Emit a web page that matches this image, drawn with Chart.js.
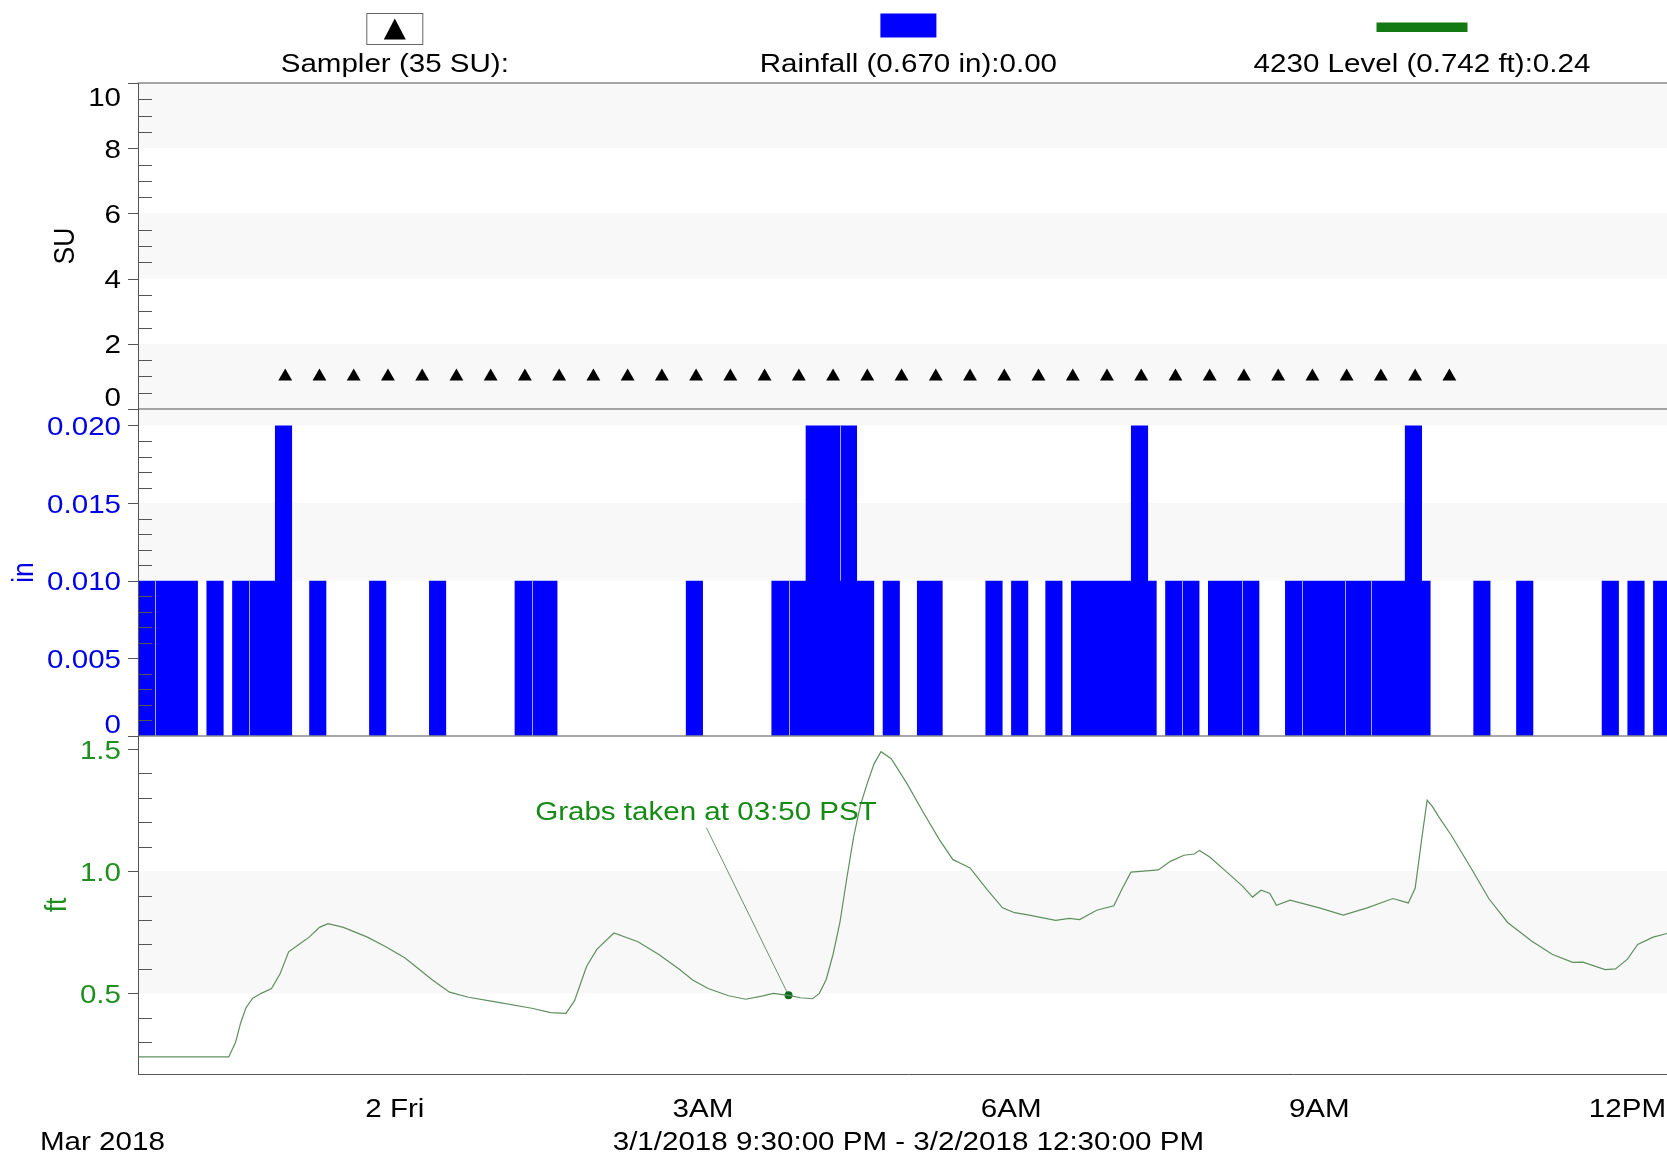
<!DOCTYPE html>
<html>
<head>
<meta charset="utf-8">
<title>Sampler, Rainfall and 4230 Level</title>
<script src="https://cdn.jsdelivr.net/npm/chart.js@4.4.1/dist/chart.umd.min.js"></script>
<style>
  html, body { margin: 0; padding: 0; background: #fff; overflow: hidden; }
</style>
</head>
<body>
<canvas id="levelChart" width="1700" height="1159"></canvas>
<script>
// ---------- data (clock times, 3/1 21:30 -> 3/2 12:30) ----------
const startTime = '21:30';
const endTime = '12:30';

// sampler bottles
const samplerTimes = ['22:56', '23:16', '23:36', '23:56', '00:16', '00:36', '00:56', '01:16', '01:36',
  '01:56', '02:16', '02:36', '02:56', '03:16', '03:36', '03:56', '04:16', '04:36', '04:56', '05:16',
  '05:36', '05:56', '06:16', '06:36', '06:56', '07:16', '07:36', '07:56', '08:16', '08:36', '08:56',
  '09:16', '09:36', '09:56', '10:16'];
const samplerValues = [1, 1, 1, 1, 1, 1, 1, 1, 1, 1, 1, 1, 1, 1, 1, 1, 1, 1, 1, 1, 1, 1, 1, 1, 1, 1, 1, 1,
  1, 1, 1, 1, 1, 1, 1];

// rainfall, 5 minute bins (bin start time), empty bins left out
const rainTimes = ['21:30', '21:35', '21:40', '21:45', '21:50', '21:55', '22:00', '22:10', '22:15',
  '22:25', '22:30', '22:35', '22:40', '22:45', '22:50', '22:55', '23:10', '23:15', '23:45', '23:50',
  '00:20', '00:25', '01:10', '01:15', '01:20', '01:25', '01:30', '02:50', '02:55', '03:40', '03:45',
  '03:50', '03:55', '04:00', '04:05', '04:10', '04:15', '04:20', '04:25', '04:30', '04:35', '04:45',
  '04:50', '05:05', '05:10', '05:15', '05:45', '05:50', '06:00', '06:05', '06:20', '06:25', '06:35',
  '06:40', '06:45', '06:50', '06:55', '07:00', '07:05', '07:10', '07:15', '07:20', '07:30', '07:35',
  '07:40', '07:45', '07:55', '08:00', '08:05', '08:10', '08:15', '08:20', '08:40', '08:45', '08:50',
  '08:55', '09:00', '09:05', '09:10', '09:15', '09:20', '09:25', '09:30', '09:35', '09:40', '09:45',
  '09:50', '09:55', '10:00', '10:30', '10:35', '10:55', '11:00', '11:45', '11:50', '12:00', '12:05',
  '12:15', '12:20'];
const rainValues = [0.01, 0.01, 0.01, 0.01, 0.01, 0.01, 0.01, 0.01, 0.01,
  0.01, 0.01, 0.01, 0.01, 0.01, 0.02, 0.02, 0.01, 0.01, 0.01, 0.01,
  0.01, 0.01, 0.01, 0.01, 0.01, 0.01, 0.01, 0.01, 0.01, 0.01, 0.01,
  0.01, 0.01, 0.02, 0.02, 0.02, 0.02, 0.02, 0.02, 0.01, 0.01, 0.01,
  0.01, 0.01, 0.01, 0.01, 0.01, 0.01, 0.01, 0.01, 0.01, 0.01, 0.01,
  0.01, 0.01, 0.01, 0.01, 0.01, 0.01, 0.02, 0.02, 0.01, 0.01, 0.01,
  0.01, 0.01, 0.01, 0.01, 0.01, 0.01, 0.01, 0.01, 0.01, 0.01, 0.01,
  0.01, 0.01, 0.01, 0.01, 0.01, 0.01, 0.01, 0.01, 0.01, 0.01, 0.01,
  0.02, 0.02, 0.01, 0.01, 0.01, 0.01, 0.01, 0.01, 0.01, 0.01, 0.01,
  0.01, 0.01];
// places where one gauge bar starts right after another (thin light seam), and the seam's lower end
const rainSeams = ['21:40', '22:35', '01:20', '03:50', '04:20', '07:40', '08:15', '08:50', '09:15', '09:30'];
const rainSeamLows = [0, 0, 0, 0, 0.01, 0, 0, 0, 0, 0];

// 4230 level (ft)
const levelTimes = ['21:30', '22:00', '22:23', '22:27', '22:30', '22:33', '22:37', '22:42', '22:48',
  '22:53', '22:58', '23:04', '23:10', '23:16', '23:21', '23:30', '23:44', '23:55', '00:06', '00:14',
  '00:22', '00:32', '00:43', '00:58', '01:20', '01:31', '01:40', '01:45', '01:52', '01:58', '02:08',
  '02:22', '02:34', '02:46', '02:54', '03:03', '03:15', '03:25', '03:35', '03:41', '03:50', '03:57',
  '04:04', '04:08', '04:12', '04:16', '04:20', '04:24', '04:28', '04:32', '04:36', '04:40', '04:44',
  '04:50', '04:59', '05:09', '05:18', '05:26', '05:31', '05:36', '05:46', '05:55', '06:02', '06:09',
  '06:26', '06:34', '06:40', '06:46', '06:50', '07:00', '07:05', '07:10', '07:21', '07:26', '07:33',
  '07:41', '07:47', '07:50', '07:56', '08:07', '08:15', '08:21', '08:26', '08:31', '08:35', '08:43',
  '09:00', '09:14', '09:28', '09:43', '09:52', '09:56', '10:00', '10:03', '10:06', '10:10', '10:17',
  '10:28', '10:39', '10:50', '11:04', '11:16', '11:28', '11:34', '11:47', '11:53', '12:00', '12:06',
  '12:15', '12:23', '12:30'];
const levelValues = [0.24, 0.24, 0.24, 0.30, 0.38, 0.44, 0.48, 0.50, 0.52,
  0.58, 0.67, 0.70, 0.73, 0.77, 0.785, 0.77, 0.73, 0.69, 0.645, 0.60,
  0.555, 0.505, 0.484, 0.466, 0.439, 0.421, 0.418, 0.47, 0.61, 0.68, 0.747,
  0.711, 0.66, 0.60, 0.555, 0.52, 0.49, 0.476, 0.49, 0.50, 0.492, 0.482,
  0.478, 0.50, 0.557, 0.66, 0.79, 0.97, 1.14, 1.27, 1.36, 1.44, 1.489,
  1.46, 1.36, 1.237, 1.13, 1.047, 1.03, 1.013, 0.924, 0.85, 0.83, 0.822,
  0.799, 0.807, 0.802, 0.825, 0.84, 0.858, 0.93, 0.996, 1.002, 1.005, 1.04,
  1.065, 1.07, 1.085, 1.058, 0.99, 0.94, 0.894, 0.922, 0.91, 0.86, 0.881,
  0.85, 0.82, 0.85, 0.888, 0.870, 0.93, 1.14, 1.29, 1.265, 1.22, 1.148,
  1.02, 0.888, 0.79, 0.714, 0.66, 0.627, 0.628, 0.597, 0.60, 0.64, 0.70,
  0.73, 0.745, 0.75];

// grab sample note
const grabTime = '03:50';
const grabValue = 0.492;
const grabText = 'Grabs taken at 03:50 PST';

// axis ticks
const suTicks = [0, 2, 4, 6, 8, 10];
const suTickLabels = ['0', '2', '4', '6', '8', '10'];
const inTicks = [0, 0.005, 0.010, 0.015, 0.020];
const inTickLabels = ['0', '0.005', '0.010', '0.015', '0.020'];
const ftTicks = [0.5, 1.0, 1.5];
const ftTickLabels = ['0.5', '1.0', '1.5'];
const xLabelTimes = ['00:00', '03:00', '06:00', '09:00', '12:00'];
const xLabelTexts = ['2 Fri', '3AM', '6AM', '9AM', '12PM'];

// ---------- helpers ----------
function toHours(hhmm) {
  const [h, m] = hhmm.split(':').map(Number);
  return (h < 21 ? h + 24 : h) + m / 60;
}

const BIN = 5 / 60;
const FONT_SIZE = 26.5;
const STRETCH = 1.115; // the original picture is a little wider than tall
const FONT = FONT_SIZE + 'px "Liberation Sans", Arial, sans-serif';

// rain bins -> step outline (value holds from a point to the next one), back to 0 after each run
function rainSteps() {
  const pts = [];
  let lastEnd = null;
  rainTimes.forEach((t, i) => {
    const s = toHours(t);
    if (lastEnd !== null && Math.abs(s - lastEnd) > 1e-6) pts.push({ x: lastEnd, y: 0 });
    pts.push({ x: s, y: rainValues[i] });
    lastEnd = s + BIN;
  });
  pts.push({ x: lastEnd, y: 0 });
  return pts;
}

function drawText(c, text, x, y, opts) {
  const o = Object.assign({ align: 'center', color: '#000', baseline: 'alphabetic', rotate: false }, opts);
  c.save();
  c.translate(x, y);
  c.scale(STRETCH, 1);
  if (o.rotate) c.rotate(-Math.PI / 2);
  c.font = FONT;
  c.fillStyle = o.color;
  c.textAlign = o.align;
  c.textBaseline = o.baseline;
  c.fillText(text, 0, 0);
  c.restore();
}

function textWidth(c, text) {
  c.save();
  c.font = FONT;
  const w = c.measureText(text).width * STRETCH;
  c.restore();
  return w;
}

function line(c, x1, y1, x2, y2) {
  c.beginPath();
  c.moveTo(x1, y1);
  c.lineTo(x2, y2);
  c.stroke();
}

const panels = {
  ySU: { ticks: suTicks, labels: suTickLabels, minor: 0.5, color: '#000000', title: 'SU', bands: [[0, 2], [4, 6], [8, 10]] },
  yIn: { ticks: inTicks, labels: inTickLabels, minor: 0.001, color: '#0000e6', title: 'in', bands: [[0.010, 0.015], [0.020, 0.02106]] },
  yFt: { ticks: ftTicks, labels: ftTickLabels, minor: 0.1, color: '#1f8f1f', title: 'ft', bands: [[0.5, 1.0]] }
};

function isStep(v, step) {
  const r = v / step;
  return Math.abs(r - Math.round(r)) < 1e-6;
}

// ---------- plugin: bands, axes, ticks, texts, legend ----------
const hydroPlugin = {
  id: 'hydro',
  beforeDatasetsDraw(chart) {
    const { ctx, chartArea: a, scales } = chart;
    ctx.save();
    ctx.fillStyle = '#f8f8f8';
    for (const [id, p] of Object.entries(panels)) {
      const s = scales[id];
      p.bands.forEach(([lo, hi]) => {
        const y1 = s.getPixelForValue(hi);
        const y2 = s.getPixelForValue(lo);
        ctx.fillRect(a.left, y1, a.right - a.left, y2 - y1);
      });
    }
    // leader line of the grab note
    const x = scales.x, y = scales.yFt;
    ctx.strokeStyle = '#6f906f';
    ctx.lineWidth = 1;
    line(ctx, x.getPixelForValue(toHours('03:02')), y.getPixelForValue(1.178),
      x.getPixelForValue(toHours(grabTime)), y.getPixelForValue(grabValue));
    ctx.restore();
  },
  afterDatasetsDraw(chart) {
    // seams between abutting rain bars
    const { ctx, scales } = chart;
    const x = scales.x, y = scales.yIn;
    ctx.save();
    ctx.strokeStyle = '#a6a6ff';
    ctx.lineWidth = 1;
    rainSeams.forEach((t, i) => {
      const px = Math.round(x.getPixelForValue(toHours(t))) + 0.5;
      const top = rainValues[rainTimes.indexOf(t)];
      line(ctx, px, y.getPixelForValue(top), px, y.getPixelForValue(rainSeamLows[i]));
    });
    ctx.restore();
  },
  afterDraw(chart) {
    const { ctx, chartArea: a, scales } = chart;
    ctx.save();

    // frame lines
    ctx.strokeStyle = '#8a8a8a';
    ctx.lineWidth = 1.5;
    line(ctx, a.left, a.top, a.right, a.top);
    line(ctx, a.left, scales.ySU.bottom, a.right, scales.ySU.bottom);
    line(ctx, a.left, scales.yIn.bottom, a.right, scales.yIn.bottom);
    ctx.strokeStyle = '#555';
    ctx.lineWidth = 1;
    line(ctx, a.left + 0.5, a.top, a.left + 0.5, a.bottom);
    line(ctx, a.left, a.bottom + 0.5, a.right, a.bottom + 0.5);

    // y ticks, labels and titles
    for (const [id, p] of Object.entries(panels)) {
      const s = scales[id];
      ctx.strokeStyle = '#555';
      ctx.lineWidth = 1;
      s.ticks.forEach(t => {
        if (!isStep(t.value, p.minor)) return;
        if (p.ticks.some(v => Math.abs(v - t.value) < p.minor / 10)) return;
        const py = Math.round(s.getPixelForValue(t.value)) + 0.5;
        line(ctx, a.left, py, a.left + 14, py);
      });
      let maxW = 0;
      p.ticks.forEach((v, i) => {
        const py = s.getPixelForValue(v);
        line(ctx, a.left - 10, Math.round(py) + 0.5, a.left, Math.round(py) + 0.5);
        const cy = Math.min(Math.max(py, s.top + 13), s.bottom - 13);
        drawText(ctx, p.labels[i], a.left - 17, cy + FONT_SIZE * 0.36, { align: 'right', color: p.color });
        maxW = Math.max(maxW, textWidth(ctx, p.labels[i]));
      });
      drawText(ctx, p.title, a.left - 17 - maxW - 22, (s.top + s.bottom) / 2,
        { color: p.color, rotate: true, baseline: 'middle' });
    }

    // x ticks and labels
    const x = scales.x;
    x.ticks.forEach(t => {
      if (!isStep(t.value, 1)) return;
      const px = Math.round(x.getPixelForValue(t.value)) + 0.5;
      if (isStep(t.value, 3)) line(ctx, px, a.bottom, px, a.bottom + 15);
      else line(ctx, px, a.bottom - 11, px, a.bottom);
    });
    xLabelTimes.forEach((t, i) => {
      drawText(ctx, xLabelTexts[i], x.getPixelForValue(toHours(t)), a.bottom + 43);
    });
    drawText(ctx, 'Mar 2018', 40, a.bottom + 76, { align: 'left' });
    drawText(ctx, '3/1/2018 9:30:00 PM - 3/2/2018 12:30:00 PM', (a.left + a.right) / 2, a.bottom + 76);

    // legend: symbol above text, one third of the plot width each
    const third = (a.right - a.left) / 3;
    chart.data.datasets.slice(0, 3).forEach((ds, i) => {
      const cx = a.left + third * (i + 0.5);
      if (i === 0) {
        ctx.strokeStyle = '#666';
        ctx.lineWidth = 1;
        ctx.strokeRect(cx - 28, 13.5, 56, 31);
        ctx.fillStyle = '#000';
        ctx.beginPath();
        ctx.moveTo(cx, 18.5);
        ctx.lineTo(cx + 11, 39.5);
        ctx.lineTo(cx - 11, 39.5);
        ctx.closePath();
        ctx.fill();
      } else if (i === 1) {
        ctx.fillStyle = '#0000ff';
        ctx.fillRect(cx - 28, 13.5, 56, 24);
      } else {
        ctx.fillStyle = '#137a13';
        ctx.fillRect(cx - 45.5, 22.5, 91, 9.5);
      }
      drawText(ctx, ds.label, cx, 72);
    });

    // grab note text
    drawText(ctx, grabText, x.getPixelForValue(toHours('01:22')), scales.yFt.getPixelForValue(1.209),
      { align: 'left', color: '#158a15' });
    ctx.restore();
  }
};

// ---------- chart ----------
const ctx = document.getElementById('levelChart').getContext('2d');
const fixedWidth = s => { s.width = 138; };

new Chart(ctx, {
  type: 'line',
  data: {
    datasets: [
      {
        type: 'scatter',
        label: 'Sampler (35 SU):',
        data: samplerTimes.map((t, i) => ({ x: toHours(t), y: samplerValues[i] })),
        yAxisID: 'ySU',
        pointStyle: 'triangle',
        pointRadius: 8,
        backgroundColor: '#000',
        borderColor: '#000',
        borderWidth: 0
      },
      {
        type: 'line',
        label: 'Rainfall (0.670 in):0.00',
        data: rainSteps(),
        yAxisID: 'yIn',
        stepped: 'before',
        fill: 'origin',
        backgroundColor: '#0000ff',
        borderColor: '#0000ff',
        borderWidth: 0,
        pointRadius: 0
      },
      {
        type: 'line',
        label: '4230 Level (0.742 ft):0.24',
        data: levelTimes.map((t, i) => ({ x: toHours(t), y: levelValues[i] })),
        yAxisID: 'yFt',
        borderColor: '#5f8f5f',
        borderWidth: 1.2,
        pointRadius: 0,
        tension: 0
      },
      {
        type: 'scatter',
        label: 'grab',
        data: [{ x: toHours(grabTime), y: grabValue }],
        yAxisID: 'yFt',
        pointRadius: 4,
        backgroundColor: '#0d6b1d',
        borderWidth: 0
      }
    ]
  },
  options: {
    responsive: false,
    animation: false,
    devicePixelRatio: 1,
    layout: { padding: { top: 83, left: 0, right: 21.2, bottom: 0 } },
    plugins: { legend: { display: false }, tooltip: { enabled: false } },
    events: [],
    scales: {
      x: {
        type: 'linear',
        offset: false,
        min: toHours(startTime),
        max: toHours(endTime),
        ticks: { display: false, stepSize: 1 },
        grid: { display: false },
        border: { display: false },
        afterFit: s => { s.height = 85; }
      },
      // stacked panels are laid out bottom-up in definition order
      yFt: {
        type: 'linear', position: 'left', stack: 'panels', stackWeight: 338,
        min: 0.17, max: 1.553,
        ticks: { display: false, stepSize: 0.1 },
        grid: { display: false }, border: { display: false },
        afterFit: fixedWidth
      },
      yIn: {
        type: 'linear', position: 'left', stack: 'panels', stackWeight: 327,
        min: 0, max: 0.02106,
        ticks: { display: false, stepSize: 0.001 },
        grid: { display: false }, border: { display: false },
        afterFit: fixedWidth
      },
      ySU: {
        type: 'linear', position: 'left', stack: 'panels', stackWeight: 326,
        min: 0, max: 10,
        ticks: { display: false, stepSize: 0.5 },
        grid: { display: false }, border: { display: false },
        afterFit: fixedWidth
      }
    }
  },
  plugins: [hydroPlugin]
});
</script>
</body>
</html>
